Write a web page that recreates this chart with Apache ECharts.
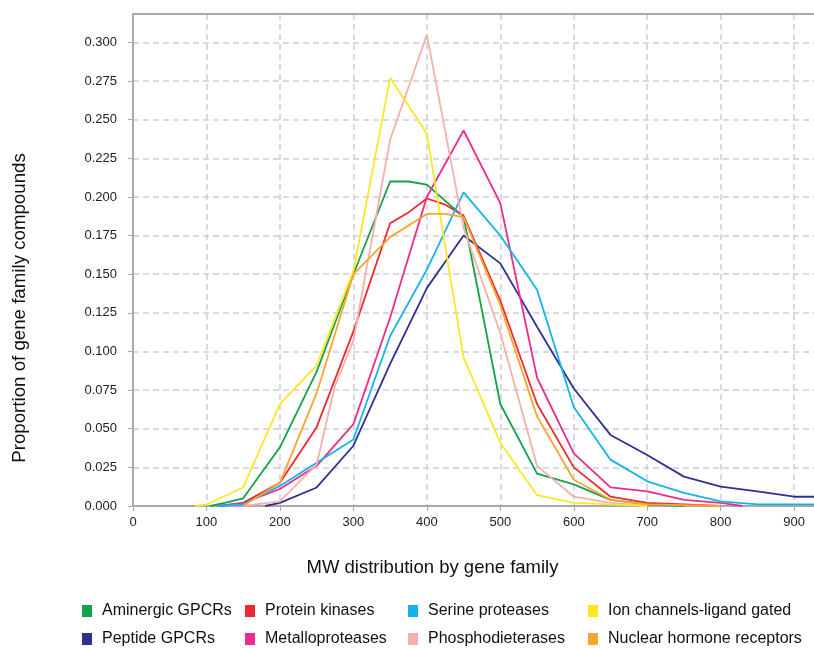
<!DOCTYPE html>
<html>
<head>
<meta charset="utf-8">
<title>MW distribution by gene family</title>
<script src="https://cdn.jsdelivr.net/npm/echarts@6/dist/echarts.min.js"></script>
<style>
  html, body { margin: 0; padding: 0; background: #fff; }
  #chart { width: 814px; height: 648px; }
</style>
</head>
<body>
<div id="chart"></div>
<script>
// MW values (x) and proportion of compounds (y)
var aminergic = [[105,0],[125,0.002],[150,0.005],[200,0.038],[250,0.087],[300,0.15],[350,0.21],[375,0.21],[400,0.208],[450,0.187],[500,0.066],[550,0.021],[600,0.014],[650,0.004],[700,0.001],[750,0]];
var peptide = [[180,0],[200,0.002],[250,0.012],[300,0.039],[350,0.092],[400,0.141],[425,0.158],[450,0.175],[500,0.157],[550,0.116],[600,0.076],[650,0.046],[700,0.033],[750,0.019],[800,0.0125],[850,0.0095],[900,0.006],[930,0.006]];
var kinases = [[120,0],[150,0.002],[200,0.015],[250,0.051],[300,0.113],[350,0.183],[375,0.19],[400,0.199],[425,0.195],[450,0.188],[500,0.133],[550,0.066],[600,0.025],[650,0.006],[700,0.002],[750,0.001],[800,0]];
var metallo = [[115,0],[150,0.002],[200,0.011],[250,0.026],[300,0.053],[350,0.122],[400,0.2],[450,0.243],[500,0.196],[550,0.083],[600,0.034],[650,0.012],[700,0.0095],[750,0.004],[800,0.002],[830,0]];
var serine = [[115,0],[150,0.001],[200,0.013],[250,0.028],[300,0.043],[350,0.11],[400,0.153],[450,0.203],[500,0.175],[550,0.14],[600,0.064],[650,0.03],[700,0.016],[750,0.0085],[800,0.003],[850,0.001],[930,0.001]];
var phospho = [[150,0],[200,0.003],[250,0.027],[275,0.078],[300,0.107],[350,0.237],[400,0.305],[450,0.18],[500,0.112],[550,0.026],[600,0.006],[650,0.002],[700,0]];
var ionChannels = [[85,0],[100,0.001],[150,0.012],[200,0.066],[250,0.091],[300,0.152],[350,0.277],[400,0.241],[425,0.168],[450,0.096],[500,0.041],[550,0.007],[600,0.002],[650,0.001],[700,0]];
var nuclear = [[150,0],[200,0.015],[250,0.073],[300,0.15],[350,0.174],[400,0.189],[425,0.189],[450,0.187],[500,0.13],[550,0.058],[600,0.017],[650,0.004],[700,0.001],[800,0]];

var names = ['Aminergic GPCRs','Peptide GPCRs','Protein kinases','Metalloproteases',
             'Serine proteases','Phosphodieterases','Ion channels-ligand gated','Nuclear hormone receptors'];
var seriesData = [aminergic, peptide, kinases, metallo, serine, phospho, ionChannels, nuclear];
var colors = ['#12a24a','#2e3192','#ec2a2f','#ec2c8c','#14b4ea','#f6b0ab','#fde725','#f6a630'];

var font = '"Liberation Sans", Arial, Helvetica, sans-serif';
var axisGray = '#a9a9b2';
var gridGray = '#cdcdd5';

var series = [];
for (var i = 0; i < names.length; i++) {
  series.push({
    name: names[i],
    type: 'line',
    data: seriesData[i],
    showSymbol: false,
    symbol: 'none',
    lineStyle: { width: 1.8, color: colors[i] },
    itemStyle: { color: colors[i] }
  });
}

// legend: 4 columns x 2 rows, one legend per item so the columns line up
var legendCols = [82, 245, 408, 588];
var legendRows = [603, 631];
var legends = [];
for (var k = 0; k < names.length; k++) {
  legends.push({
    left: legendCols[Math.floor(k / 2)],
    top: legendRows[k % 2],
    data: [names[k]],
    icon: 'rect',
    itemWidth: 10,
    itemHeight: 12,
    padding: 0,
    selectedMode: false,
    textStyle: { fontFamily: font, fontSize: 16, color: '#111', lineHeight: 16, padding: [0, 0, 0, 5] }
  });
}

var chart = echarts.init(document.getElementById('chart'));
chart.setOption({
  animation: false,
  color: colors,
  legend: legends,
  grid: { left: 133, top: 14, right: 0, bottom: 142 },
  xAxis: [{
    type: 'value',
    min: 0, max: 927, interval: 100,
    name: 'MW distribution by gene family',
    nameLocation: 'middle',
    nameGap: 52,
    nameTextStyle: { fontFamily: font, fontSize: 18.5, color: '#111', padding: [0, 82, 0, 0] },
    axisLine: { lineStyle: { color: axisGray, width: 2 } },
    axisTick: { show: true, length: 5, lineStyle: { color: axisGray } },
    axisLabel: { fontFamily: font, fontSize: 13, color: '#222', margin: 10, showMaxLabel: false },
    splitLine: { show: true, showMaxLine: false, lineStyle: { color: gridGray, width: 1.5, type: [6, 4] } }
  }, {
    // top frame line only
    type: 'value',
    position: 'top',
    min: 0, max: 927,
    axisLine: { show: true, lineStyle: { color: axisGray, width: 2 } },
    axisTick: { show: false },
    axisLabel: { show: false },
    splitLine: { show: false }
  }],
  yAxis: {
    type: 'value',
    min: 0, max: 0.3184, interval: 0.025,
    name: 'Proportion of gene family compounds',
    nameLocation: 'middle',
    nameGap: 104,
    nameTextStyle: { fontFamily: font, fontSize: 18.7, color: '#111', padding: [0, 96, 0, 0] },
    axisLine: { show: true, lineStyle: { color: axisGray, width: 2 } },
    axisTick: { show: true, length: 5, lineStyle: { color: axisGray } },
    axisLabel: {
      fontFamily: font, fontSize: 13, color: '#222', margin: 16, showMaxLabel: false,
      formatter: function (v) { return v.toFixed(3); }
    },
    splitLine: { show: true, showMaxLine: false, lineStyle: { color: gridGray, width: 1.5, type: [6, 4] } }
  },
  series: series
});
</script>
</body>
</html>
